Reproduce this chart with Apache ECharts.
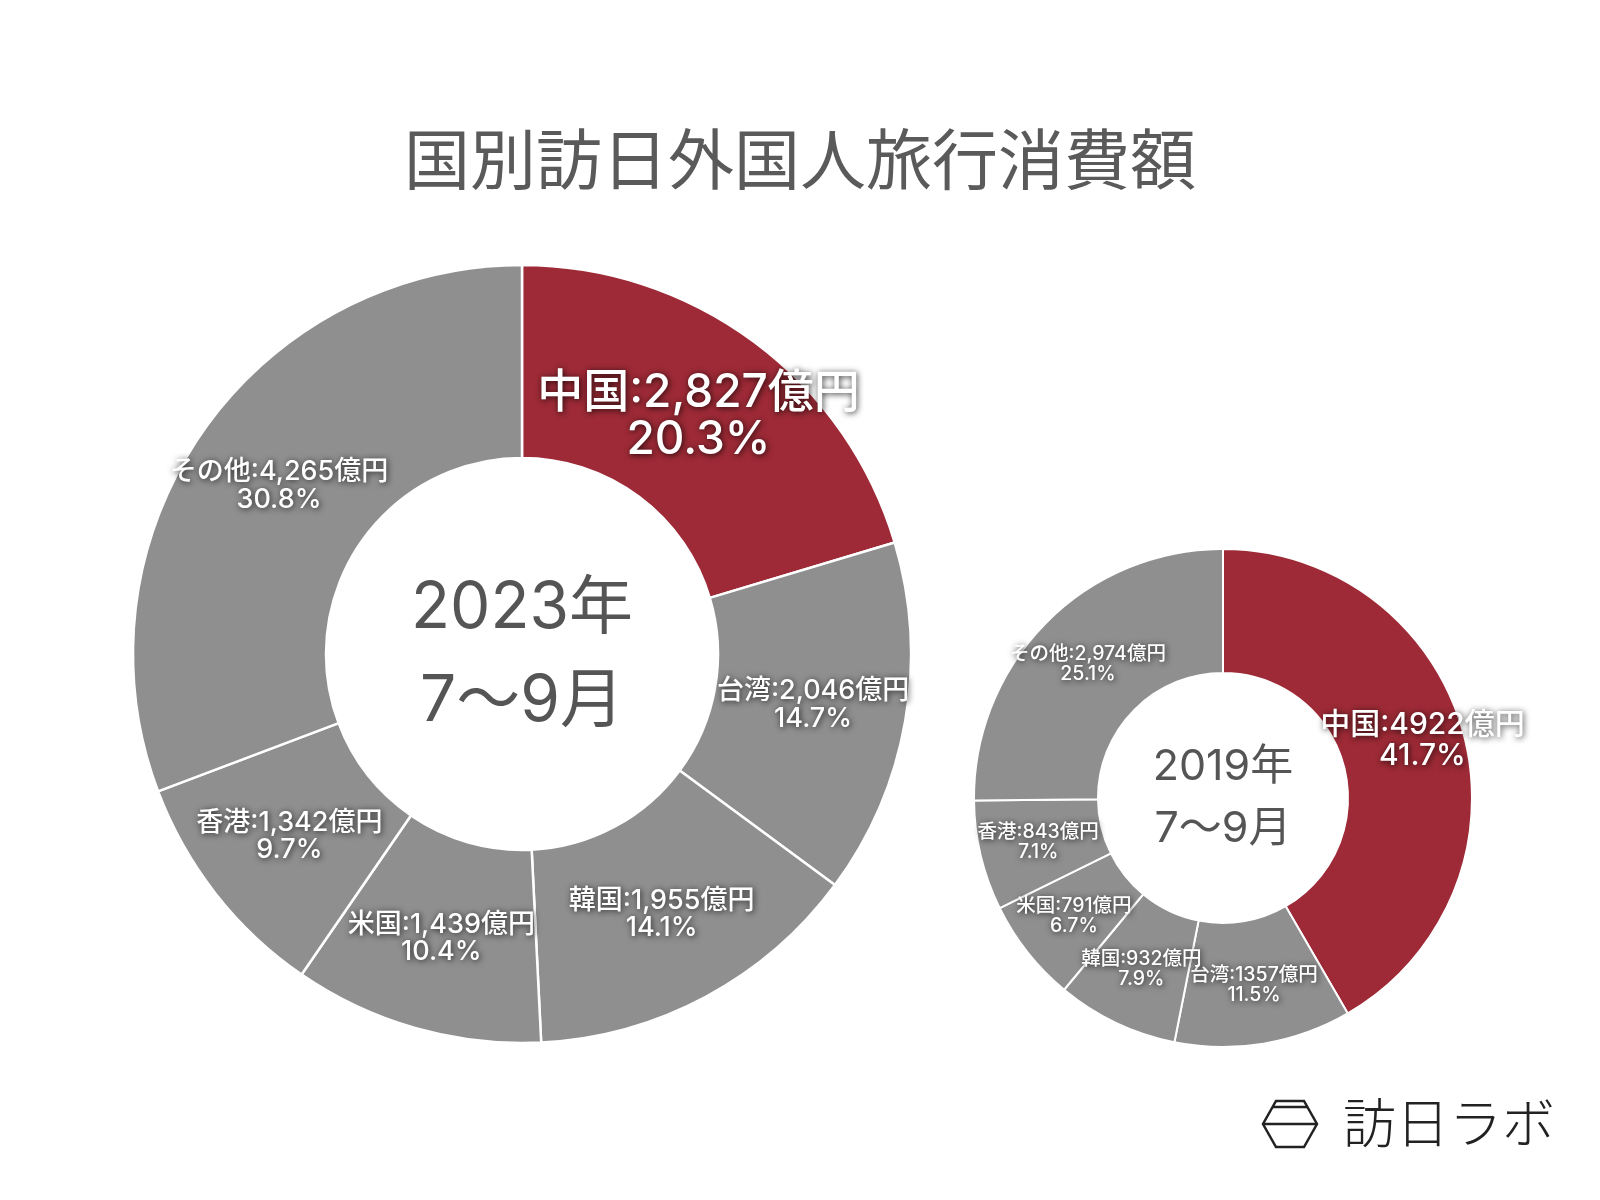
<!DOCTYPE html>
<html>
<head>
<meta charset="utf-8">
<script src="https://cdn.jsdelivr.net/npm/echarts@6/dist/echarts.min.js"></script>
<style>
  html, body { margin: 0; padding: 0; background: #ffffff; }
  #chart { width: 1600px; height: 1200px; }
</style>
</head>
<body>
<div id="chart"></div>
<script>
// ---- data ----
const chartTitle = '国別訪日外国人旅行消費額';
const regions = ['中国', '台湾', '韓国', '米国', '香港', 'その他'];
const values2023 = [2827, 2046, 1955, 1439, 1342, 4265];
const amountText2023 = ['2,827', '2,046', '1,955', '1,439', '1,342', '4,265'];
const pctText2023 = ['20.3%', '14.7%', '14.1%', '10.4%', '9.7%', '30.8%'];
const values2019 = [4922, 1357, 932, 791, 843, 2974];
const amountText2019 = ['4922', '1357', '932', '791', '843', '2,974'];
const pctText2019 = ['41.7%', '11.5%', '7.9%', '6.7%', '7.1%', '25.1%'];
const centerText2023 = '2023年\n7〜9月';
const centerText2019 = '2019年\n7〜9月';
const unit = '億円';
const brand = '訪日ラボ';

// ---- style ----
const FONT = 'Inter, "Noto Sans CJK JP", sans-serif';
const CJK = '"Noto Sans CJK JP", "Noto Sans", sans-serif';
const RED = '#9d2a36';
const GRAY = '#8f8f8f';

function buildData(values, amounts, pcts, bigSize, smallSize) {
  return regions.map((name, i) => ({
    name: name,
    value: values[i],
    itemStyle: { color: i === 0 ? RED : GRAY },
    label: {
      fontSize: i === 0 ? bigSize : smallSize,
      lineHeight: i === 0 ? bigSize * 1.02 : smallSize * 1.02,
      formatter: name + ':' + amounts[i] + unit + '\n' + pcts[i]
    }
  }));
}

const labelBase = {
  show: true,
  position: 'inside',
  color: '#ffffff',
  fontFamily: FONT,
  fontWeight: 500,
  textShadowColor: 'rgba(0,0,0,0.8)',
  textShadowBlur: 6,
  textShadowOffsetX: 1,
  textShadowOffsetY: 1,
  align: 'center'
};

const chart = echarts.init(document.getElementById('chart'), null, { renderer: 'canvas' });

const option = {
  backgroundColor: '#ffffff',
  animation: false,
  title: {
    text: chartTitle,
    left: 'center',
    top: 117,
    textStyle: {
      fontFamily: CJK,
      fontSize: 66,
      lineHeight: 74,
      fontWeight: 400,
      color: '#5a5a5a'
    }
  },
  series: [
    {
      type: 'pie',
      center: [522, 654],
      radius: [196, 389],
      startAngle: 90,
      clockwise: true,
      avoidLabelOverlap: false,
      label: labelBase,
      labelLine: { show: false },
      itemStyle: { borderColor: '#ffffff', borderWidth: 2.5 },
      emphasis: { disabled: true },
      data: buildData(values2023, amountText2023, pctText2023, 46, 27)
    },
    {
      type: 'pie',
      center: [1223, 798],
      radius: [125, 249],
      startAngle: 90,
      clockwise: true,
      avoidLabelOverlap: false,
      label: labelBase,
      labelLine: { show: false },
      labelLayout: function (params) {
        return params.dataIndex === 0 ? { dx: 16, dy: -8 } : {};
      },
      itemStyle: { borderColor: '#ffffff', borderWidth: 2 },
      emphasis: { disabled: true },
      data: buildData(values2019, amountText2019, pctText2019, 30, 19.5)
    }
  ],
  graphic: [
    {
      type: 'text',
      x: 522, y: 655,
      style: {
        text: centerText2023,
        fontFamily: FONT,
        fontSize: 64,
        lineHeight: 93,
        fill: '#555555',
        align: 'center',
        verticalAlign: 'middle'
      }
    },
    {
      type: 'text',
      x: 1223, y: 798,
      style: {
        text: centerText2019,
        fontFamily: FONT,
        fontSize: 43,
        lineHeight: 62,
        fill: '#555555',
        align: 'center',
        verticalAlign: 'middle'
      }
    },
    {
      type: 'polygon',
      shape: { points: [[1276, 1101], [1304, 1101], [1317, 1124], [1304, 1147], [1276, 1147], [1263, 1124]] },
      style: { fill: 'none', stroke: '#222222', lineWidth: 2.5 }
    },
    {
      type: 'line',
      shape: { x1: 1263, y1: 1124, x2: 1317, y2: 1124 },
      style: { stroke: '#222222', lineWidth: 2.5 }
    },
    {
      type: 'line',
      shape: { x1: 1273, y1: 1107, x2: 1307, y2: 1107 },
      style: { stroke: '#222222', lineWidth: 2.5 }
    },
    {
      type: 'text',
      x: 1343, y: 1123,
      style: {
        text: brand,
        fontFamily: CJK,
        fontSize: 53,
        fontWeight: 300,
        fill: '#222222',
        align: 'left',
        verticalAlign: 'middle'
      }
    }
  ]
};

chart.setOption(option);
</script>
</body>
</html>
